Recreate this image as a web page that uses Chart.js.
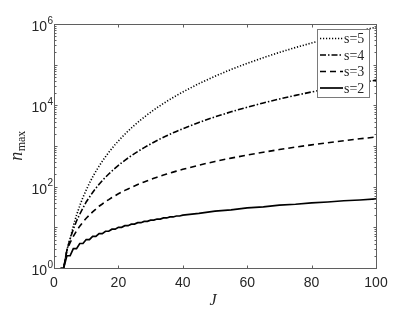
<!DOCTYPE html>
<html>
<head>
<meta charset="utf-8">
<script src="https://cdn.jsdelivr.net/npm/chart.js@4.4.0/dist/chart.umd.min.js"></script>
<style>
body { margin: 0; background: #fff; }
</style>
</head>
<body>
<canvas id="myChart" width="415" height="312"></canvas>
<script>
// J values (x axis)
const J = [2, 3, 4, 5, 6, 7, 8, 9, 10, 11, 12, 13, 14, 15, 16, 17, 18, 19, 20,
  21, 22, 23, 24, 25, 26, 27, 28, 29, 30, 31, 32, 33, 34, 35, 36, 37, 38, 39, 40,
  45, 50, 55, 60, 65, 70, 75, 80, 85, 90, 95, 100]

// n_max, one array per s
const s2 = [1, 1, 2, 2, 3, 3, 4, 4, 5, 5, 6, 6, 7, 7, 8, 8, 9, 9, 10,
  10, 11, 11, 12, 12, 13, 13, 14, 14, 15, 15, 16, 16, 17, 17, 18, 18, 19, 19, 20,
  22, 25, 27, 30, 32, 35, 37, 40, 42, 45, 47, 50]
const s3 = [0.7, 1, 2.7, 4.2, 6, 8.2, 10.7, 13.5, 16.7, 20, 24, 28, 33, 37.5, 43, 48, 54, 60, 67,
  73.5, 81, 88, 96, 104, 113, 121.5, 131, 140, 150, 160, 171, 181.5, 193, 204, 216, 228, 241, 253.5, 267,
  338, 417, 504, 600, 704, 817, 938, 1067, 1204, 1350, 1504, 1667]
const s4 = [0.5, 1, 2.7, 5.2, 9, 14.3, 21, 30, 42, 55, 72, 92, 114, 141, 171, 205, 243, 286, 333,
  386, 444, 507, 576, 651, 732, 820, 915, 1016, 1125, 1241, 1365, 1497, 1638, 1786, 1944, 2111, 2286, 2471, 2667,
  3797, 5208, 6932, 9000, 11443, 14292, 17578, 21333, 25589, 30375, 35724, 41667]
const s5 = [0.3, 1, 2.8, 5.2, 10.8, 20, 34, 55, 83, 122, 173, 238, 320, 422, 546, 696, 875, 1086, 1333,
  1621, 1952, 2332, 2765, 3255, 3808, 4428, 5122, 5894, 6750, 7696, 8738, 9883, 11135, 12505, 13997, 15617, 17376, 19277, 21333,
  34172, 52083, 76255, 108000, 148760, 200083, 263672, 341333, 435010, 546750, 678802, 833333]

const xTicks = [0, 20, 40, 60, 80, 100]
const yTickExp = [0, 2, 4, 6]
const legendLabels = ['s=5', 's=4', 's=3', 's=2']

function pts(ys) {
  return J.map(function (j, i) { return { x: j, y: ys[i] } })
}

const AXIS = '#5f5f5f'
const TXT = '#262626'

// box, inward ticks, tick labels, titles and the legend
const frame = {
  id: 'frame',
  afterDraw(chart) {
    const ctx = chart.ctx, a = chart.chartArea
    const xs = chart.scales.x, ys = chart.scales.y
    ctx.save()
    ctx.strokeStyle = AXIS
    ctx.lineWidth = 1
    const L = Math.round(a.left) + 0.5, R = Math.round(a.right) + 0.5
    const T = Math.round(a.top) + 0.5, B = Math.round(a.bottom) + 0.5
    ctx.strokeRect(L, T, R - L, B - T)

    ctx.beginPath()
    xTicks.forEach(function (v) {
      const px = Math.round(xs.getPixelForValue(v)) + 0.5
      ctx.moveTo(px, B); ctx.lineTo(px, B - 3)
      ctx.moveTo(px, T); ctx.lineTo(px, T + 3)
    })
    for (let d = 0; d < 6; d++) {
      for (let k = 1; k <= 9; k++) {
        const v = k * Math.pow(10, d)
        const py = Math.round(ys.getPixelForValue(v)) + 0.5
        const len = k === 1 ? 3 : 2
        ctx.moveTo(L, py); ctx.lineTo(L + len, py)
        ctx.moveTo(R, py); ctx.lineTo(R - len, py)
      }
    }
    ctx.stroke()

    // x tick labels
    ctx.fillStyle = TXT
    ctx.font = '14px "Liberation Sans", Arial, sans-serif'
    ctx.textAlign = 'center'
    ctx.textBaseline = 'middle'
    xTicks.forEach(function (v) {
      ctx.fillText(String(v), xs.getPixelForValue(v), 283)
    })

    // y tick labels 10^n
    yTickExp.forEach(function (e) {
      const py = ys.getPixelForValue(Math.pow(10, e))
      ctx.font = '14px "Liberation Sans", Arial, sans-serif'
      ctx.textAlign = 'right'
      ctx.fillText('10', 47, py + 3)
      ctx.font = '10px "Liberation Sans", Arial, sans-serif'
      ctx.textAlign = 'left'
      ctx.fillText(String(e), 47.5, py - 3)
    })

    // x title
    ctx.font = 'italic 16px "Liberation Serif", "DejaVu Serif", serif'
    ctx.textAlign = 'center'
    ctx.fillText('J', 213, 301)

    // y title n_max
    ctx.save()
    ctx.translate(18, (a.top + a.bottom) / 2)
    ctx.rotate(-Math.PI / 2)
    ctx.font = 'italic 18px "Liberation Serif", "DejaVu Serif", serif'
    const wn = ctx.measureText('n').width
    ctx.font = '12px "Liberation Serif", "DejaVu Serif", serif'
    const wm = ctx.measureText('max').width
    const x0 = -(wn + wm) / 2
    ctx.textAlign = 'left'
    ctx.font = 'italic 18px "Liberation Serif", "DejaVu Serif", serif'
    ctx.fillText('n', x0, -1)
    ctx.font = '12px "Liberation Serif", "DejaVu Serif", serif'
    ctx.fillText('max', x0 + wn + 0.5, 4)
    ctx.restore()

    // legend
    ctx.fillStyle = '#fff'
    ctx.fillRect(317, 29, 52, 68)
    ctx.strokeStyle = '#7a7a7a'
    ctx.strokeRect(317.5, 29.5, 52, 68)
    const rows = [38.5, 55, 71.5, 88]
    chart.data.datasets.forEach(function (ds, i) {
      ctx.save()
      ctx.strokeStyle = '#000'
      ctx.lineWidth = ds.borderWidth
      ctx.setLineDash(ds.borderDash || [])
      ctx.beginPath()
      ctx.moveTo(320, rows[i]); ctx.lineTo(343, rows[i])
      ctx.stroke()
      ctx.restore()
      ctx.fillStyle = TXT
      ctx.font = '14px "Liberation Serif", "DejaVu Serif", serif'
      ctx.textAlign = 'left'
      ctx.textBaseline = 'middle'
      ctx.fillText(legendLabels[i], 344, rows[i] + 1)
    })
    ctx.restore()
  }
}

function updateChart() {
  const ctx = document.getElementById('myChart').getContext('2d')
  new Chart(ctx, {
    type: 'line',
    data: {
      datasets: [
        { label: 's=5', data: pts(s5), borderColor: '#000', borderWidth: 1.6, borderDash: [1.2, 1.8] },
        { label: 's=4', data: pts(s4), borderColor: '#000', borderWidth: 1.6, borderDash: [6, 2, 1.5, 2] },
        { label: 's=3', data: pts(s3), borderColor: '#000', borderWidth: 1.6, borderDash: [6, 4] },
        { label: 's=2', data: pts(s2), borderColor: '#000', borderWidth: 1.7 }
      ]
    },
    options: {
      responsive: false,
      animation: false,
      layout: { padding: { left: 54, right: 39, top: 24, bottom: 44 } },
      elements: { point: { radius: 0 }, line: { tension: 0 } },
      plugins: { legend: { display: false }, tooltip: { enabled: false } },
      scales: {
        x: { type: 'linear', min: 0, max: 100, display: false },
        y: { type: 'logarithmic', min: 1, max: 1e6, display: false }
      }
    },
    plugins: [frame]
  })
}

updateChart()
</script>
</body>
</html>
